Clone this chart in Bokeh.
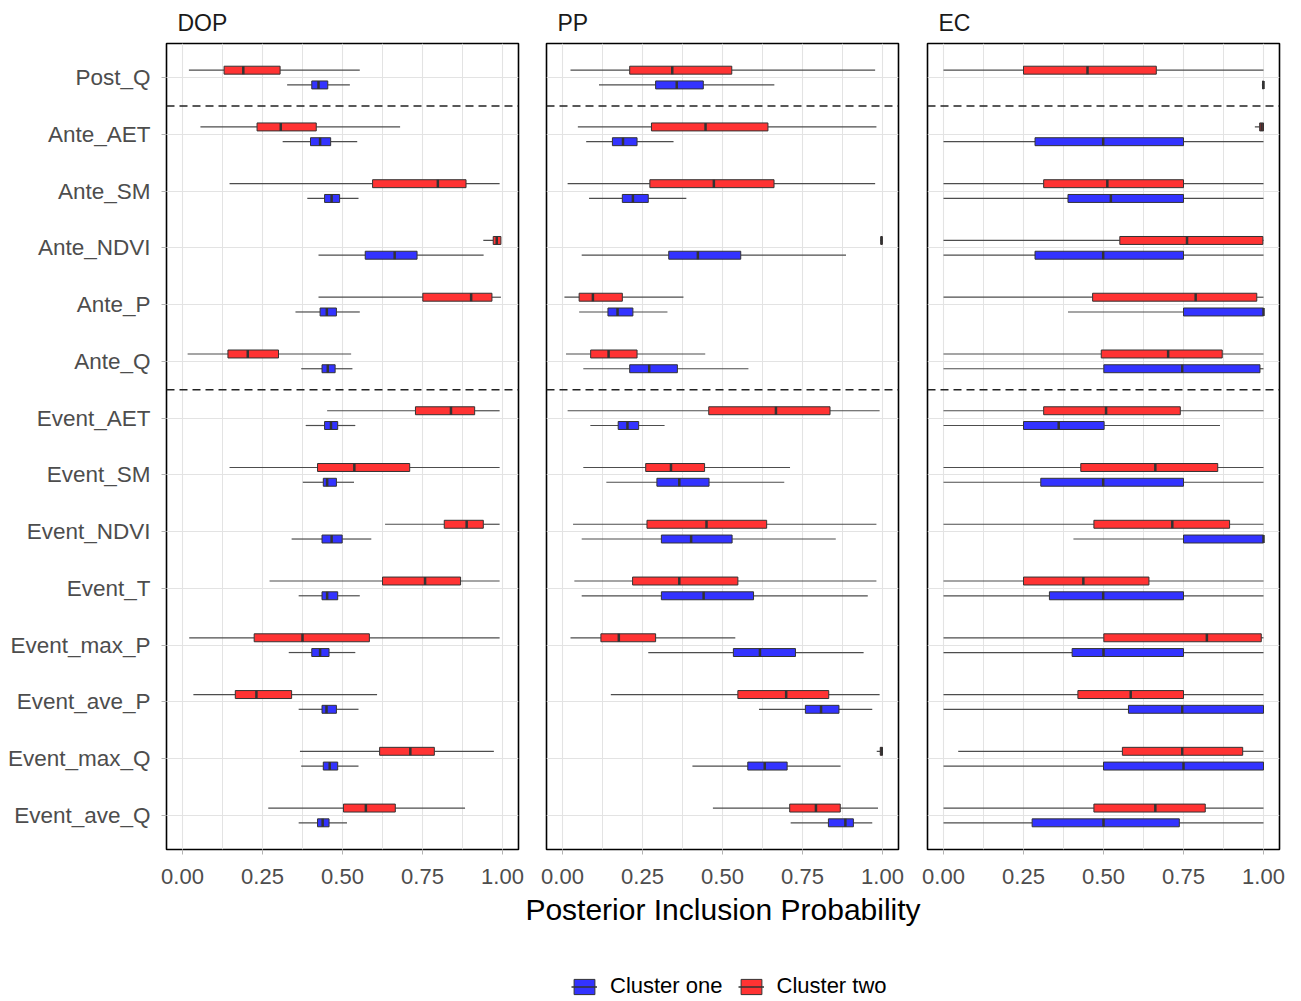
from bokeh.plotting import figure
from bokeh.layouts import column, row
from bokeh.models import Range1d, FixedTicker, NumeralTickFormatter, Span, Legend, LegendItem
from bokeh.embed import file_html
from bokeh.resources import INLINE

# ---------------- data (top-to-bottom order as displayed) ----------------
categories = ["Post_Q", "Ante_AET", "Ante_SM", "Ante_NDVI", "Ante_P", "Ante_Q",
              "Event_AET", "Event_SM", "Event_NDVI", "Event_T", "Event_max_P",
              "Event_ave_P", "Event_max_Q", "Event_ave_Q"]
separators_after = ["Post_Q", "Ante_Q"]
panels = ["DOP", "PP", "EC"]
x_ticks = [0.0, 0.25, 0.5, 0.75, 1.0]
series_names = ["Cluster one", "Cluster two"]
x_title = "Posterior Inclusion Probability"

# DOP
dop_two_lo  = [0.020, 0.056, 0.147, 0.940, 0.425, 0.016, 0.452, 0.147, 0.633, 0.272, 0.021, 0.034, 0.367, 0.268]
dop_two_q1  = [0.130, 0.233, 0.594, 0.971, 0.751, 0.142, 0.728, 0.422, 0.818, 0.625, 0.224, 0.165, 0.616, 0.503]
dop_two_med = [0.190, 0.307, 0.798, 0.982, 0.902, 0.204, 0.839, 0.537, 0.888, 0.758, 0.375, 0.231, 0.712, 0.573]
dop_two_q3  = [0.305, 0.418, 0.886, 0.995, 0.967, 0.300, 0.913, 0.710, 0.940, 0.869, 0.584, 0.341, 0.787, 0.665]
dop_two_hi  = [0.554, 0.680, 0.991, 0.995, 0.995, 0.527, 0.991, 0.991, 0.991, 0.991, 0.991, 0.608, 0.973, 0.883]

dop_one_lo  = [0.327, 0.313, 0.390, 0.425, 0.353, 0.371, 0.385, 0.376, 0.341, 0.363, 0.332, 0.363, 0.371, 0.363]
dop_one_q1  = [0.404, 0.400, 0.444, 0.571, 0.430, 0.436, 0.444, 0.440, 0.436, 0.436, 0.404, 0.436, 0.440, 0.422]
dop_one_med = [0.425, 0.430, 0.466, 0.663, 0.451, 0.454, 0.464, 0.452, 0.466, 0.452, 0.430, 0.450, 0.460, 0.438]
dop_one_q3  = [0.454, 0.463, 0.491, 0.733, 0.481, 0.477, 0.485, 0.481, 0.499, 0.485, 0.458, 0.481, 0.485, 0.458]
dop_one_hi  = [0.523, 0.546, 0.550, 0.941, 0.554, 0.531, 0.540, 0.536, 0.590, 0.554, 0.540, 0.550, 0.550, 0.514]

# PP
pp_two_lo  = [0.025, 0.048, 0.016, 0.993, 0.006, 0.011, 0.016, 0.065, 0.033, 0.037, 0.025, 0.151, 0.982, 0.470]
pp_two_q1  = [0.210, 0.278, 0.273, 0.995, 0.052, 0.088, 0.457, 0.260, 0.264, 0.219, 0.120, 0.548, 0.993, 0.710]
pp_two_med = [0.343, 0.447, 0.473, 0.997, 0.095, 0.144, 0.667, 0.339, 0.450, 0.365, 0.176, 0.699, 0.997, 0.792]
pp_two_q3  = [0.529, 0.642, 0.661, 0.999, 0.187, 0.233, 0.836, 0.444, 0.638, 0.548, 0.291, 0.832, 1.000, 0.868]
pp_two_hi  = [0.977, 0.981, 0.977, 1.000, 0.378, 0.446, 0.991, 0.711, 0.981, 0.981, 0.540, 0.991, 1.000, 0.986]

pp_one_lo  = [0.114, 0.074, 0.083, 0.060, 0.052, 0.065, 0.087, 0.137, 0.060, 0.060, 0.268, 0.614, 0.406, 0.713]
pp_one_q1  = [0.291, 0.156, 0.187, 0.332, 0.142, 0.210, 0.174, 0.295, 0.309, 0.309, 0.534, 0.759, 0.579, 0.831]
pp_one_med = [0.357, 0.189, 0.220, 0.423, 0.172, 0.271, 0.203, 0.365, 0.402, 0.441, 0.617, 0.808, 0.632, 0.884]
pp_one_q3  = [0.440, 0.233, 0.268, 0.557, 0.220, 0.359, 0.238, 0.458, 0.530, 0.597, 0.728, 0.864, 0.702, 0.909]
pp_one_hi  = [0.662, 0.347, 0.387, 0.886, 0.328, 0.581, 0.319, 0.693, 0.854, 0.954, 0.941, 0.968, 0.869, 0.968]

# EC
ec_two_lo  = [0.000, 0.973, 0.000, 0.000, 0.000, 0.000, 0.000, 0.000, 0.000, 0.000, 0.000, 0.000, 0.046, 0.000]
ec_two_q1  = [0.250, 0.988, 0.313, 0.551, 0.466, 0.493, 0.313, 0.429, 0.470, 0.250, 0.501, 0.420, 0.559, 0.470]
ec_two_med = [0.450, 0.994, 0.512, 0.761, 0.788, 0.702, 0.508, 0.662, 0.715, 0.437, 0.823, 0.585, 0.746, 0.662]
ec_two_q3  = [0.665, 1.000, 0.750, 0.998, 0.979, 0.871, 0.740, 0.857, 0.894, 0.642, 0.993, 0.750, 0.935, 0.818]
ec_two_hi  = [1.000, 1.000, 1.000, 1.000, 1.000, 1.000, 1.000, 1.000, 1.000, 1.000, 1.000, 1.000, 1.000, 1.000]

ec_one_lo  = [0.995, 0.000, 0.000, 0.000, 0.389, 0.000, 0.000, 0.000, 0.406, 0.000, 0.000, 0.000, 0.000, 0.000]
ec_one_q1  = [0.997, 0.286, 0.389, 0.286, 0.750, 0.501, 0.250, 0.304, 0.750, 0.331, 0.402, 0.578, 0.500, 0.277]
ec_one_med = [1.000, 0.499, 0.523, 0.499, 1.000, 0.746, 0.360, 0.499, 1.000, 0.499, 0.500, 0.746, 0.750, 0.500]
ec_one_q3  = [1.000, 0.750, 0.750, 0.750, 1.000, 0.989, 0.502, 0.750, 1.000, 0.750, 0.750, 1.000, 1.000, 0.737]
ec_one_hi  = [1.000, 1.000, 1.000, 1.000, 1.000, 1.000, 0.864, 1.000, 1.000, 1.000, 1.000, 1.000, 1.000, 1.000]

panel_data = {
    "DOP": {"Cluster one": (dop_one_lo, dop_one_q1, dop_one_med, dop_one_q3, dop_one_hi),
            "Cluster two": (dop_two_lo, dop_two_q1, dop_two_med, dop_two_q3, dop_two_hi)},
    "PP":  {"Cluster one": (pp_one_lo, pp_one_q1, pp_one_med, pp_one_q3, pp_one_hi),
            "Cluster two": (pp_two_lo, pp_two_q1, pp_two_med, pp_two_q3, pp_two_hi)},
    "EC":  {"Cluster one": (ec_one_lo, ec_one_q1, ec_one_med, ec_one_q3, ec_one_hi),
            "Cluster two": (ec_two_lo, ec_two_q1, ec_two_med, ec_two_q3, ec_two_hi)},
}

# ---------------- styling ----------------
FONT = "Liberation Sans"
COLORS = {"Cluster one": "#3333FF", "Cluster two": "#FF3333"}
DODGE = {"Cluster one": -0.13, "Cluster two": 0.13}
BOX_H = 0.14
EDGE = "#333333"
WHISK = "#4D4D4D"
GRID = "#E3E3E3"
TICKC = "#B3B3B3"
LABELC = "#4D4D4D"

n = len(categories)
ypos = [n - i for i in range(n)]
label_map = {n - i: c for i, c in enumerate(categories)}
sep_locs = [n - categories.index(c) - 0.5 for c in separators_after]

borders = {"DOP": (166, 14), "PP": (14, 14), "EC": (15, 10)}

figs = []
for name in panels:
    first = name == panels[0]
    ml, mr = borders[name]
    p = figure(frame_width=352, frame_height=806,
               x_range=Range1d(-0.05, 1.05), y_range=Range1d(0.4, n + 0.6),
               output_backend="svg", toolbar_location=None,
               min_border_left=ml, min_border_right=mr,
               min_border_top=43, min_border_bottom=40,
               y_axis_location="left" if first else None,
               background_fill_color="white", border_fill_color="white")
    p.outline_line_color = "black"
    p.outline_line_width = 1.6

    # facet strip text
    p.title.text = name
    p.title.text_font = FONT
    p.title.text_font_size = "23px"
    p.title.text_font_style = "normal"
    p.title.text_color = "#1A1A1A"
    p.title.align = "left"
    p.title.offset = 11
    p.title.standoff = 15

    # grids
    xt = FixedTicker(ticks=x_ticks, minor_ticks=[0.125, 0.375, 0.625, 0.875])
    yt = FixedTicker(ticks=ypos, minor_ticks=[])
    p.xgrid.ticker = xt
    p.ygrid.ticker = yt
    p.xgrid.grid_line_color = GRID
    p.xgrid.minor_grid_line_color = GRID
    p.ygrid.grid_line_color = GRID
    p.xgrid.grid_line_width = 1.1
    p.ygrid.grid_line_width = 1.1

    # x axis
    xa = p.xaxis[0]
    xa.ticker = xt
    xa.formatter = NumeralTickFormatter(format="0.00")
    xa.axis_line_color = None
    xa.major_tick_line_color = TICKC
    xa.major_tick_out = 5
    xa.major_tick_in = 0
    xa.minor_tick_line_color = None
    xa.major_label_text_font = FONT
    xa.major_label_text_font_size = "22px"
    xa.major_label_text_color = LABELC
    xa.major_label_standoff = 14

    if first:
        ya = p.yaxis[0]
        ya.ticker = yt
        ya.major_label_overrides = label_map
        ya.axis_line_color = None
        ya.major_tick_line_color = TICKC
        ya.major_tick_out = 5
        ya.major_tick_in = 0
        ya.minor_tick_line_color = None
        ya.major_label_text_font = FONT
        ya.major_label_text_font_size = "22.5px"
        ya.major_label_text_color = LABELC
        ya.major_label_standoff = 11

    # boxplots
    for s in series_names:
        lo, q1, med, q3, hi = panel_data[name][s]
        yy = [y + DODGE[s] for y in ypos]
        p.segment(x0=lo, y0=yy, x1=q1, y1=yy, line_color=WHISK, line_width=1.2)
        p.segment(x0=q3, y0=yy, x1=hi, y1=yy, line_color=WHISK, line_width=1.2)
        p.hbar(y=yy, height=BOX_H, left=q1, right=q3, fill_color=COLORS[s],
               line_color=EDGE, line_width=1)
        p.segment(x0=med, y0=[y - BOX_H / 2 for y in yy], x1=med,
                  y1=[y + BOX_H / 2 for y in yy], line_color=EDGE, line_width=2.5)

    for loc in sep_locs:
        p.add_layout(Span(location=loc, dimension="width", line_dash="8 5",
                          line_color="#222222", line_width=1.4))
    figs.append(p)

# ---------------- shared x title + legend strip ----------------
lf = figure(frame_width=1113, height=112, x_range=Range1d(0, 1), y_range=Range1d(0, 1),
            output_backend="svg", toolbar_location=None,
            min_border_left=166, min_border_right=10, min_border_top=0, min_border_bottom=0,
            x_axis_location=None, y_axis_location=None,
            background_fill_color="white", border_fill_color="white")
lf.outline_line_color = None
lf.xgrid.visible = False
lf.ygrid.visible = False
lf.title.text = x_title
lf.title.text_font = FONT
lf.title.text_font_size = "30px"
lf.title.text_font_style = "normal"
lf.title.text_color = "black"
lf.title.align = "center"
lf.title.standoff = 2

items = []
for s in series_names:
    # placeholder renderers (outside the visible range) that only feed the legend keys
    rb = lf.hbar(y=[-5], left=[0.1], right=[0.2], height=0.1, fill_color=COLORS[s],
                 line_color=EDGE, line_width=1)
    rm = lf.segment(x0=[0.1], y0=[-5], x1=[0.2], y1=[-5], line_color=EDGE, line_width=1.5)
    items.append(LegendItem(label=s, renderers=[rb, rm]))
leg = Legend(items=items, orientation="horizontal", location=(405, 2),
             glyph_width=26, glyph_height=19, label_standoff=13, spacing=15,
             padding=0, margin=0, border_line_color=None,
             background_fill_alpha=0, label_text_font=FONT,
             label_text_font_size="22px", label_text_color="black",
             label_height=22)
lf.add_layout(leg, "center")

layout = column(row(*figs), lf)
open("out.html", "w").write(file_html(layout, INLINE))
